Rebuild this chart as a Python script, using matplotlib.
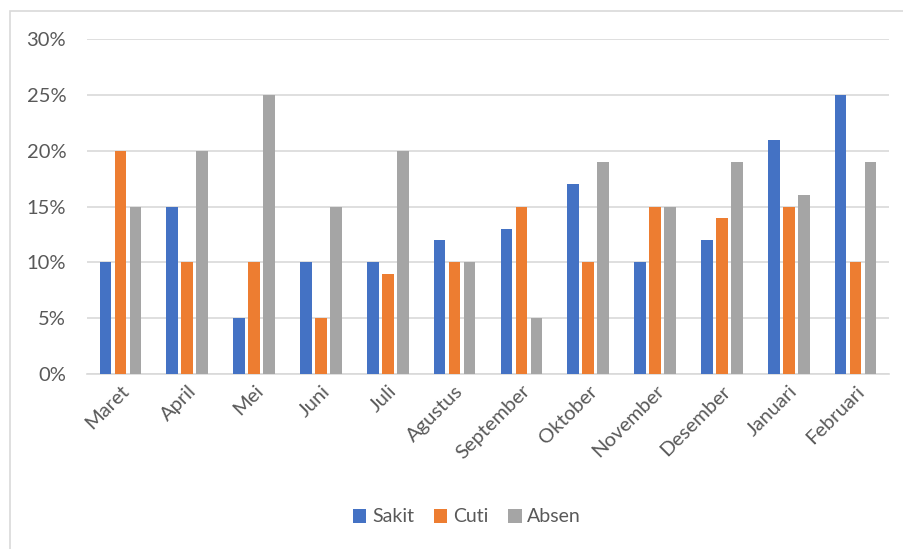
import matplotlib
matplotlib.use("Agg")
import matplotlib.pyplot as plt
from matplotlib.patches import Rectangle
from matplotlib.ticker import FuncFormatter, MultipleLocator
import numpy as np

months = ["Maret", "April", "Mei", "Juni", "Juli", "Agustus", "September",
          "Oktober", "November", "Desember", "Januari", "Februari"]
sakit = [10, 15, 5, 10, 10, 12, 13, 17, 10, 12, 21, 25]
cuti = [20, 10, 10, 5, 9, 10, 15, 10, 15, 14, 15, 10]
absen = [15, 20, 25, 15, 20, 10, 5, 19, 15, 19, 16, 19]
series_names = ["Sakit", "Cuti", "Absen"]
colors = ["#4472C4", "#ED7D31", "#A5A5A5"]

plt.rcParams['font.family'] = ['Lato', 'DejaVu Sans']
text_color = "#595959"
grid_color = "#D9D9D9"

fig = plt.figure(figsize=(9.04, 5.49), dpi=100)
ax = fig.add_axes([87/904, 1-374/549, (889-87)/904, (374-39)/549])

# outer chart border
fig.patches.append(Rectangle((10/904, -0.2), 1.2, 1.2 - 11/549,
                             transform=fig.transFigure, fill=False,
                             edgecolor=grid_color, linewidth=1.2))

x = np.arange(len(months))
pitch = 0.225
width = 0.175
for i, (vals, name, c) in enumerate(zip([sakit, cuti, absen], series_names, colors)):
    ax.bar(x + (i - 1) * pitch, vals, width=width, color=c, label=name, zorder=3)

ax.set_xlim(-0.5, len(months) - 0.5)
ax.set_ylim(0, 30)
ax.yaxis.set_major_locator(MultipleLocator(5))
ax.yaxis.set_major_formatter(FuncFormatter(lambda v, p: f"{int(v)}%"))
ax.grid(axis='y', color=grid_color, linewidth=1.2, zorder=0)
for s in ["top", "right", "left"]:
    ax.spines[s].set_visible(False)
ax.spines["bottom"].set_color(grid_color)
ax.spines["bottom"].set_linewidth(1.2)
ax.tick_params(axis='both', length=0, colors=text_color, labelsize=14.5)
ax.tick_params(axis='y', pad=15)
ax.set_xticks(x)
ax.set_xticklabels(months, rotation=45, ha='right', rotation_mode='anchor')
ax.tick_params(axis='x', pad=6)

leg = fig.legend(loc='center', bbox_to_anchor=(467/904, 1-517/549), ncol=3,
                 frameon=False, fontsize=14, handlelength=0.7, handleheight=0.7,
                 handletextpad=0.3, columnspacing=1.0)
for t in leg.get_texts():
    t.set_color(text_color)

fig.savefig("out.png", dpi=100, facecolor="white")
